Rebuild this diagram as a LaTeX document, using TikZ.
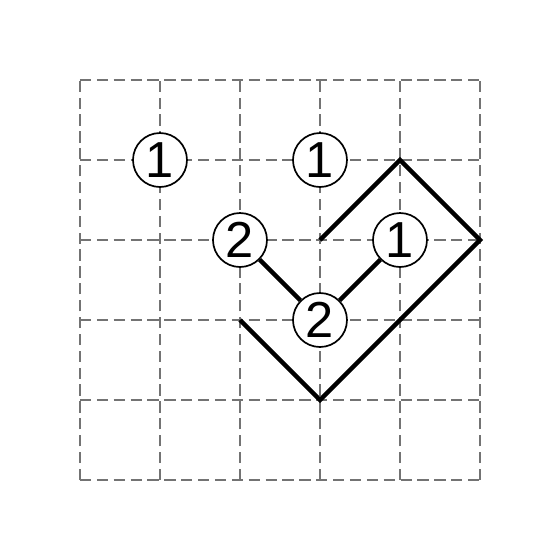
\documentclass[tikz,border=0pt]{standalone}
\usepackage{fontspec}
\setmainfont{Liberation Sans}
\tikzset{
  gridline/.style={black!55, line width=0.7pt, dash pattern=on 4pt off 2pt},
  numdot/.style={draw, circle, fill=white, line width=0.6pt, minimum size=0.675cm, inner sep=0pt, font=\fontsize{18}{20}\selectfont},
  loopline/.style={line width=1.6pt}
}
\begin{document}
\begin{tikzpicture}
\useasboundingbox (-1,-1) rectangle (6,6);
\draw[gridline] (0,0) grid (5,5);
% path segments
\coordinate (a) at (3,3);
\coordinate (b) at (4,4);
\coordinate (c) at (5,3);
\coordinate (d) at (3,1);
\coordinate (e) at (2,2);
\draw[loopline] (a) -- (b) -- (c) -- (d) -- (e);
% clues
\node[numdot] (n1) at (1,4) {1};
\node[numdot] (n2) at (3,4) {1};
\node[numdot] (n3) at (2,3) {2};
\node[numdot] (n4) at (4,3) {1};
\node[numdot] (n5) at (3,2) {2};
\draw[loopline] (n3) -- (n5) -- (n4);
\end{tikzpicture}
\end{document}
